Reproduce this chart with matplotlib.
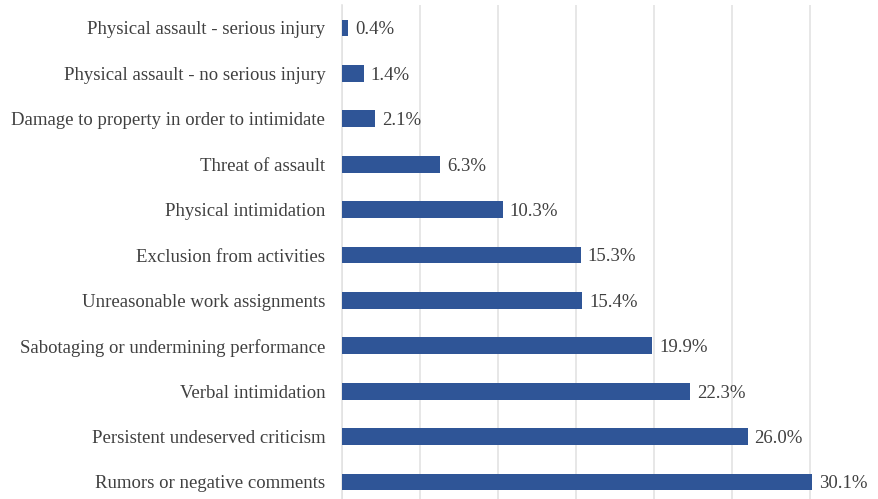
import matplotlib.pyplot as plt

categorias = [
    "Rumors or negative comments",
    "Persistent undeserved criticism",
    "Verbal intimidation",
    "Sabotaging or undermining performance",
    "Unreasonable work assignments",
    "Exclusion from activities",
    "Physical intimidation",
    "Threat of assault",
    "Damage to property in order to intimidate",
    "Physical assault - no serious injury",
    "Physical assault - serious injury",
]
valores = [30.1, 26.0, 22.3, 19.9, 15.4, 15.3, 10.3, 6.3, 2.1, 1.4, 0.4]

plt.rcParams['font.family'] = ['Liberation Serif', 'DejaVu Serif']

fig = plt.figure(figsize=(8.79, 4.99), dpi=100)
ax = fig.add_axes([342 / 879, -5.7 / 499, 546 / 879, 499.4 / 499])

y = range(len(categorias))
ax.barh(y, valores, height=0.37, color="#2F5597", zorder=3)
for i, v in enumerate(valores):
    ax.text(v + 0.45, i - 0.04, "%.1f%%" % v, va="center", ha="left",
            fontsize=13.5, color="#404040")

ax.set_xlim(0, 35)
ax.set_ylim(-0.5, 10.5)
ax.set_yticks(list(y))
ax.set_yticklabels(categorias, fontsize=13.5, color="#404040")
ax.set_xticks([0, 5, 10, 15, 20, 25, 30, 35])
ax.xaxis.grid(True, color="#E3E3E3", linewidth=1.2, zorder=0)
ax.tick_params(axis="both", length=0, pad=12)
ax.tick_params(axis="x", labelbottom=False)
for s in ["top", "right", "bottom"]:
    ax.spines[s].set_visible(False)
ax.spines["left"].set_color("#E3E3E3")
ax.spines["left"].set_linewidth(1.2)

fig.savefig("out.png", dpi=100)
